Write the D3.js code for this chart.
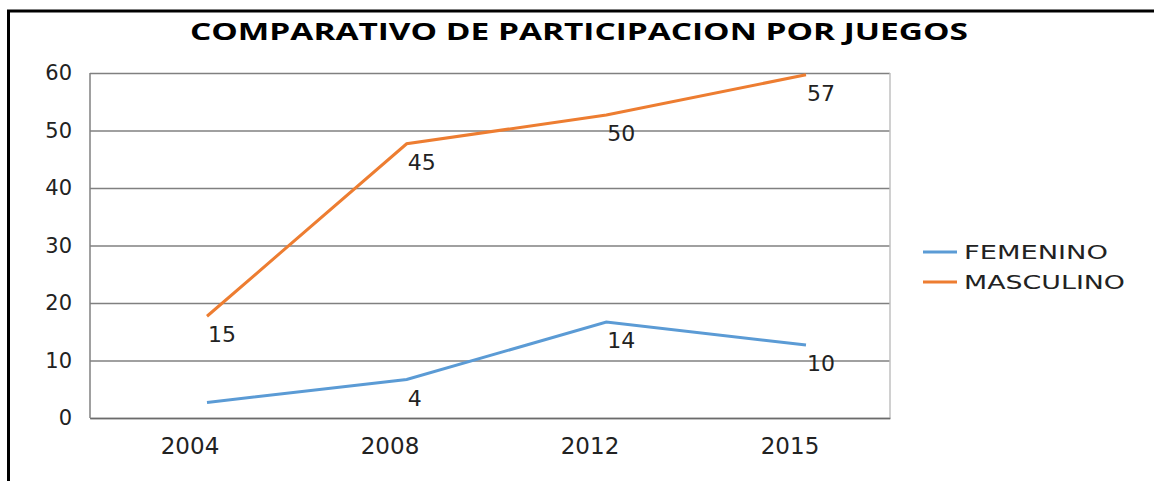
<!DOCTYPE html>
<html>
<head>
<meta charset="utf-8">
<script src="https://cdn.jsdelivr.net/npm/d3@7"></script>
<style>
  body { margin: 0; background: #fff; }
  svg { display: block; }
  text { font-family: "DejaVu Sans", sans-serif; fill: #222; }
</style>
</head>
<body>
<svg width="1154" height="481"></svg>
<script>
// data
const years = ['2004', '2008', '2012', '2015'];
const femenino = [0, 4, 14, 10];
const masculino = [15, 45, 50, 57];
const femeninoLabels = ['', '4', '14', '10'];
const masculinoLabels = ['15', '45', '50', '57'];
const yTicks = [0, 10, 20, 30, 40, 50, 60];
const seriesNames = ['FEMENINO', 'MASCULINO'];
const seriesColors = ['#5b9bd5', '#ed7d31'];

const svg = d3.select('svg');

// outer frame (top + left black border)
svg.append('path')
  .attr('d', 'M8.5,481 V11 H1154')
  .attr('fill', 'none')
  .attr('stroke', '#000')
  .attr('stroke-width', 3);

// title
svg.append('text')
  .attr('x', 579).attr('y', 40)
  .attr('text-anchor', 'middle')
  .attr('textLength', 778)
  .attr('lengthAdjust', 'spacingAndGlyphs')
  .style('font-family', '"Open Sans", sans-serif')
  .style('font-weight', 'bold')
  .style('font-size', '24px')
  .style('fill', '#000')
  .text('COMPARATIVO DE PARTICIPACION POR JUEGOS');

const plot = { left: 90, right: 890, top: 73, bottom: 418 };

const x = d3.scaleBand().domain(years).range([plot.left, plot.right]);
const y = d3.scaleLinear().domain([0, 60]).range([plot.bottom, plot.top]);

// the series layer in the original sits a bit off the axes
const xSeries = d3.scalePoint().domain(years).range([207, 806]);
const ySeries = y.copy().range([plot.bottom - 15.5, plot.top - 15.5]);

// gridlines + y axis
const yAxis = svg.append('g')
  .attr('transform', 'translate(' + plot.left + ',0)')
  .call(d3.axisLeft(y).tickValues(yTicks).tickSize(-(plot.right - plot.left)).tickPadding(18));
yAxis.select('.domain').remove();
yAxis.selectAll('.tick line')
  .attr('stroke', '#808080')
  .attr('stroke-width', 1.5);
yAxis.selectAll('.tick text')
  .style('font-size', '21px')
  .style('font-family', '"DejaVu Sans", sans-serif')
  .attr('fill', '#222');

// left axis line, right border
svg.append('line')
  .attr('x1', plot.left).attr('x2', plot.left)
  .attr('y1', plot.top).attr('y2', plot.bottom)
  .attr('stroke', '#808080').attr('stroke-width', 1.5);
svg.append('line')
  .attr('x1', plot.right).attr('x2', plot.right)
  .attr('y1', plot.top).attr('y2', plot.bottom)
  .attr('stroke', '#c0c0c0').attr('stroke-width', 1.5);

// x axis labels
const xAxis = svg.append('g')
  .attr('transform', 'translate(0,' + plot.bottom + ')')
  .call(d3.axisBottom(x).tickSize(0).tickPadding(20));
xAxis.select('.domain').attr('stroke', '#6b6b6b').attr('stroke-width', 1.5);
xAxis.selectAll('.tick text')
  .style('font-size', '23px')
  .style('font-family', '"DejaVu Sans", sans-serif')
  .attr('fill', '#222');

// lines
const series = [
  { name: seriesNames[0], values: femenino, labels: femeninoLabels, color: seriesColors[0] },
  { name: seriesNames[1], values: masculino, labels: masculinoLabels, color: seriesColors[1] },
];

const line = d3.line()
  .x((d, i) => xSeries(years[i]))
  .y((d) => ySeries(d));

series.forEach((s) => {
  svg.append('path')
    .datum(s.values)
    .attr('fill', 'none')
    .attr('stroke', s.color)
    .attr('stroke-width', 3)
    .attr('d', line);

  svg.append('g')
    .selectAll('text')
    .data(s.values)
    .enter()
    .append('text')
    .attr('x', (d, i) => xSeries(years[i]) + 1)
    .attr('y', (d) => ySeries(d) + 26)
    .style('font-size', '22px')
    .text((d, i) => s.labels[i]);
});

// legend
const legend = svg.append('g');
const legendWidths = [144, 161];
series.forEach((s, i) => {
  const ly = 252 + i * 30;
  legend.append('line')
    .attr('x1', 923).attr('x2', 957)
    .attr('y1', ly).attr('y2', ly)
    .attr('stroke', s.color)
    .attr('stroke-width', 3);
  legend.append('text')
    .attr('x', 964).attr('y', ly + 7)
    .attr('textLength', legendWidths[i])
    .attr('lengthAdjust', 'spacingAndGlyphs')
    .style('font-size', '19px')
    .text(s.name);
});
</script>
</body>
</html>
